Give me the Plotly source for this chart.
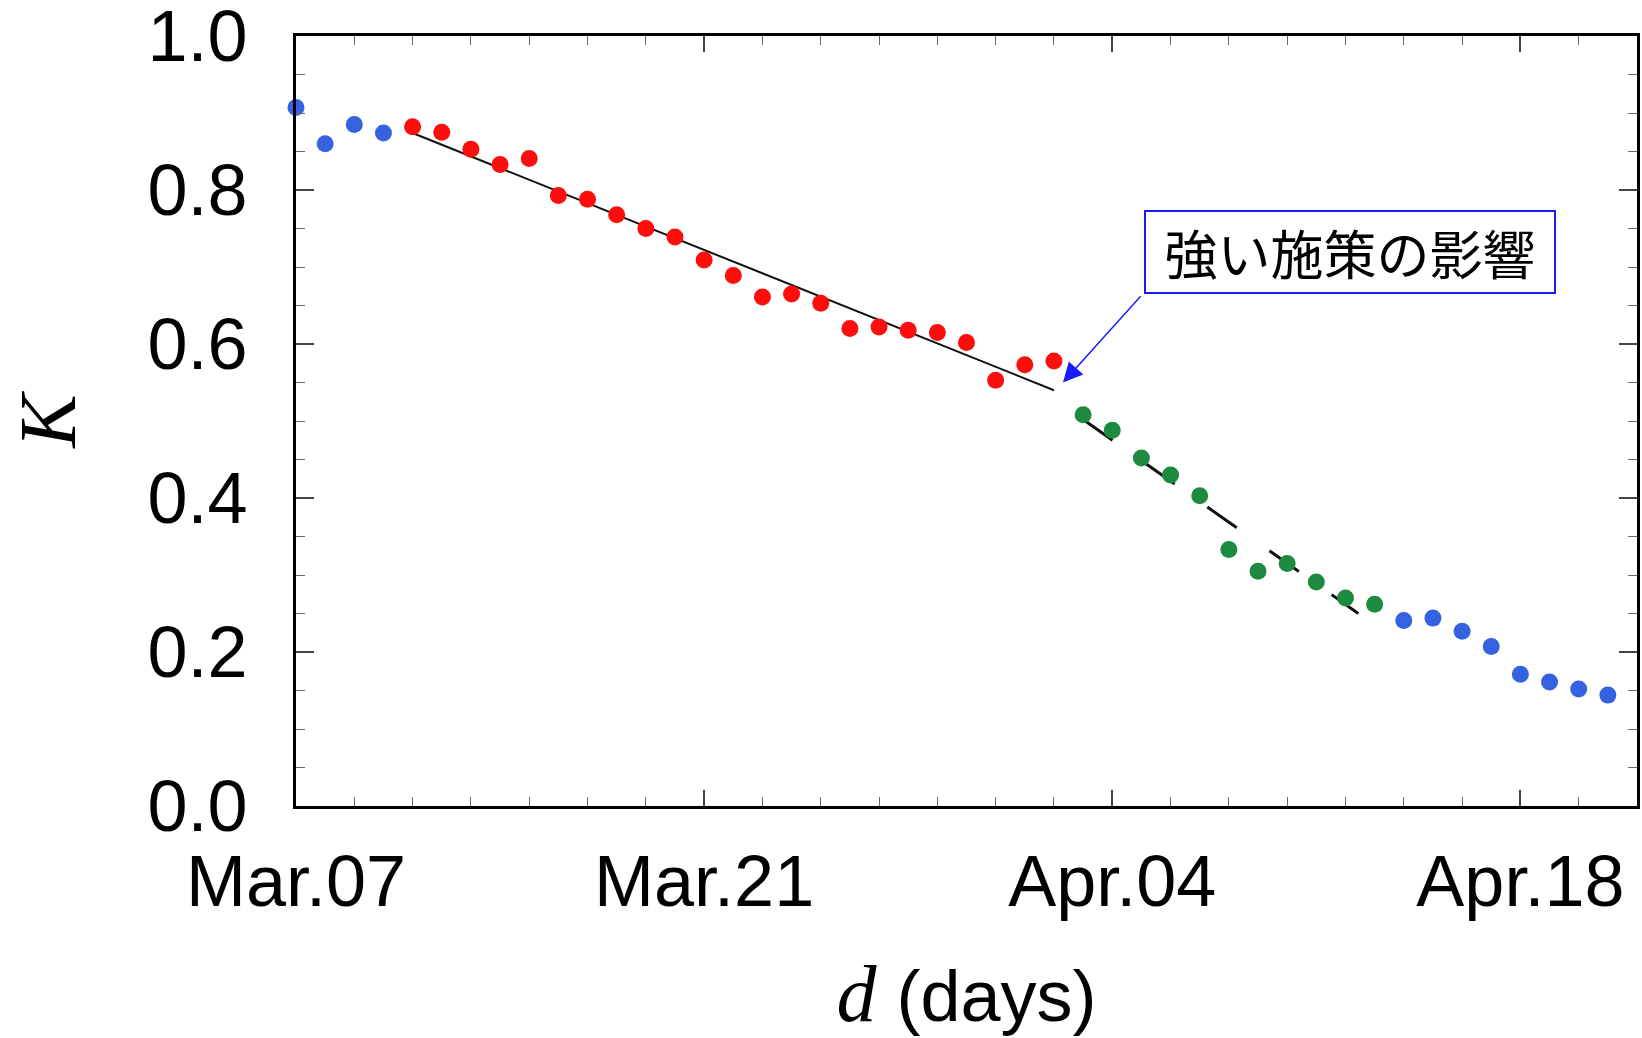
import plotly.graph_objects as go

# Daily values of K, counted in days from Mar.07
days_before = [0, 1, 2, 3]
k_before = [0.907, 0.860, 0.885, 0.874]

days_decline = list(range(4, 27))
k_decline = [0.882, 0.875, 0.853, 0.833, 0.841, 0.793, 0.788, 0.768, 0.750,
             0.739, 0.709, 0.689, 0.661, 0.665, 0.653, 0.620, 0.622, 0.618,
             0.615, 0.602, 0.553, 0.573, 0.578]

days_measure = list(range(27, 38))
k_measure = [0.508, 0.488, 0.452, 0.430, 0.403, 0.333, 0.305, 0.315, 0.291,
             0.270, 0.262]

days_after = list(range(38, 46))
k_after = [0.241, 0.244, 0.227, 0.207, 0.171, 0.161, 0.152, 0.144]

# Straight-line fits for the two declining phases (endpoints in day, K)
fit1_days = [4, 26]
fit1_k = [0.874, 0.540]
fit2_days = [27, 36.44]
fit2_k = [0.502, 0.250]

tick_days = [0, 14, 28, 42]
tick_labels = ["Mar.07", "Mar.21", "Apr.04", "Apr.18"]

note_text = "強い施策の影響"
note_target = (26.31, 0.550)
note_tail = (29.02, 0.664)

BLUE = "#3462e0"
RED = "#ff0d0d"
GREEN = "#1c8b3f"

fig = go.Figure()

fig.add_trace(go.Scatter(x=fit1_days, y=fit1_k, mode="lines",
                         line=dict(color="#111111", width=2),
                         showlegend=False, hoverinfo="skip"))
fig.add_trace(go.Scatter(x=fit2_days, y=fit2_k, mode="lines",
                         line=dict(color="#111111", width=3, dash="36px,40px"),
                         showlegend=False, hoverinfo="skip"))

for xs, ys, col in [(days_before, k_before, BLUE),
                    (days_decline, k_decline, RED),
                    (days_measure, k_measure, GREEN),
                    (days_after, k_after, BLUE)]:
    fig.add_trace(go.Scatter(x=xs, y=ys, mode="markers",
                             marker=dict(color=col, size=17, line=dict(width=0)),
                             cliponaxis=False, showlegend=False))

axis_font = dict(family="Liberation Sans, Arial, sans-serif", size=72, color="black")

fig.update_xaxes(
    range=[0, 46], tickvals=tick_days, ticktext=tick_labels,
    ticks="inside", ticklen=16, tickwidth=1.5, tickcolor="#444",
    minor=dict(dtick=2, tick0=0, ticks="inside", ticklen=9, tickwidth=1.2,
               tickcolor="#666", showgrid=False),
    showline=True, linecolor="black", linewidth=3, mirror="allticks",
    showgrid=False, zeroline=False, tickfont=axis_font, ticklabelstandoff=11,
    ticklabeloverflow="allow", automargin=False,
    title=dict(text="<i><span style='font-family:Liberation Serif;font-size:80px'>d</span></i> (days)",
               font=axis_font, standoff=55),
)
fig.update_yaxes(
    range=[0, 1], dtick=0.2, tick0=0, tickformat=".1f",
    ticks="inside", ticklen=18, tickwidth=1.5, tickcolor="#444",
    minor=dict(dtick=0.05, ticks="inside", ticklen=9, tickwidth=1.2,
               tickcolor="#666", showgrid=False),
    showline=True, linecolor="black", linewidth=3, mirror="allticks",
    showgrid=False, zeroline=False, tickfont=axis_font, ticklabelstandoff=31,
    ticklabeloverflow="allow", automargin=False,
    title=dict(text="<i>K</i>",
               font=dict(family="Liberation Serif, Times New Roman, serif", size=80, color="black"),
               standoff=46),
)

fig.add_annotation(
    x=0.786, y=0.719, xref="paper", yref="paper", xanchor="center", yanchor="middle",
    text=note_text, showarrow=False, width=398, height=70,
    font=dict(family="Noto Sans CJK JP", size=53, color="black"),
    bgcolor="white", bordercolor="#1a1aff", borderwidth=2, borderpad=5,
)
fig.add_annotation(
    x=note_target[0], y=note_target[1], ax=note_tail[0], ay=note_tail[1],
    xref="x", yref="y", axref="x", ayref="y", text="",
    showarrow=True, arrowhead=2, arrowsize=2.6, arrowwidth=1.5, arrowcolor="#1a1aff",
)

fig.update_layout(
    width=1642, height=1038,
    margin=dict(l=296, r=5, t=36, b=232),
    plot_bgcolor="white", paper_bgcolor="white",
)

fig.write_html("out.html")
